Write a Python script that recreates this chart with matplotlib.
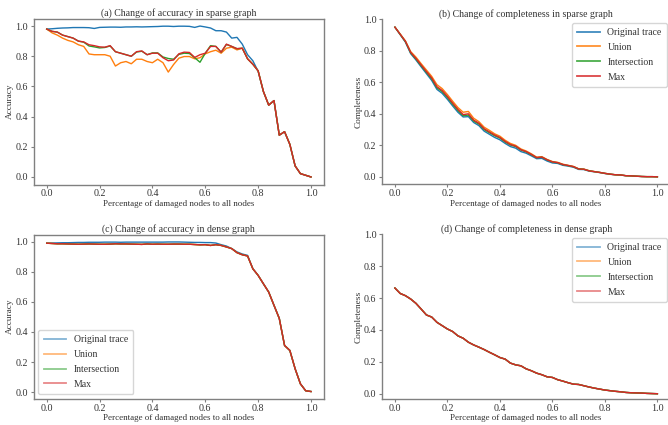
import numpy as np
import matplotlib
matplotlib.use("Agg")
import matplotlib.pyplot as plt

plt.rcParams['font.family'] = ['Liberation Serif', 'DejaVu Serif']

# Percentage of damaged nodes
damaged = np.linspace(0, 1, 51)

series_names = ["Original trace", "Union", "Intersection", "Max"]

# (a) accuracy, sparse graph
acc_sparse_orig = [0.980, 0.982, 0.985, 0.987, 0.988, 0.990, 0.990, 0.990, 0.989, 0.984,
                   0.991, 0.992, 0.993, 0.993, 0.992, 0.994, 0.994, 0.995, 0.994, 0.995,
                   0.996, 0.997, 0.999, 0.999, 0.997, 0.999, 0.999, 0.998, 0.991, 1.000,
                   0.994, 0.987, 0.969, 0.969, 0.960, 0.920, 0.925, 0.880, 0.810, 0.770,
                   0.700, 0.566, 0.476, 0.506, 0.277, 0.300, 0.216, 0.073, 0.022, 0.011, 0.000]
acc_sparse_union = [0.980, 0.955, 0.940, 0.920, 0.905, 0.895, 0.876, 0.865, 0.815, 0.810,
                    0.810, 0.810, 0.800, 0.735, 0.757, 0.765, 0.750, 0.780, 0.780, 0.765,
                    0.757, 0.780, 0.757, 0.695, 0.745, 0.787, 0.798, 0.798, 0.783, 0.790,
                    0.816, 0.830, 0.840, 0.820, 0.853, 0.860, 0.842, 0.853, 0.783, 0.747,
                    0.703, 0.566, 0.476, 0.506, 0.277, 0.300, 0.216, 0.073, 0.022, 0.011, 0.000]
acc_sparse_inter = [0.980, 0.965, 0.960, 0.940, 0.930, 0.920, 0.900, 0.893, 0.868, 0.862,
                    0.855, 0.858, 0.868, 0.830, 0.820, 0.810, 0.800, 0.828, 0.833, 0.810,
                    0.822, 0.822, 0.795, 0.785, 0.780, 0.812, 0.820, 0.818, 0.790, 0.760,
                    0.820, 0.870, 0.865, 0.827, 0.878, 0.865, 0.850, 0.853, 0.783, 0.747,
                    0.703, 0.566, 0.476, 0.506, 0.277, 0.300, 0.216, 0.073, 0.022, 0.011, 0.000]
acc_sparse_max = [0.980, 0.965, 0.960, 0.940, 0.930, 0.920, 0.900, 0.895, 0.876, 0.870,
                  0.862, 0.860, 0.870, 0.830, 0.820, 0.810, 0.800, 0.830, 0.835, 0.810,
                  0.820, 0.820, 0.790, 0.770, 0.775, 0.816, 0.827, 0.825, 0.792, 0.810,
                  0.820, 0.865, 0.865, 0.827, 0.880, 0.865, 0.850, 0.853, 0.783, 0.747,
                  0.703, 0.566, 0.476, 0.506, 0.277, 0.300, 0.216, 0.073, 0.022, 0.011, 0.000]

# (b) completeness, sparse graph
comp_sparse_orig = [0.950, 0.903, 0.855, 0.782, 0.742, 0.698, 0.655, 0.612, 0.555, 0.530,
                    0.492, 0.450, 0.410, 0.380, 0.382, 0.345, 0.325, 0.290, 0.270, 0.250,
                    0.235, 0.212, 0.192, 0.182, 0.160, 0.150, 0.133, 0.115, 0.117, 0.100,
                    0.088, 0.085, 0.073, 0.068, 0.061, 0.047, 0.046, 0.036, 0.032, 0.027,
                    0.021, 0.016, 0.013, 0.011, 0.007, 0.006, 0.004, 0.002, 0.001, 0.001, 0.000]
comp_sparse_union = [0.950, 0.907, 0.863, 0.795, 0.760, 0.718, 0.678, 0.638, 0.585, 0.560,
                     0.522, 0.480, 0.440, 0.410, 0.415, 0.372, 0.350, 0.315, 0.295, 0.273,
                     0.258, 0.232, 0.212, 0.200, 0.177, 0.164, 0.146, 0.125, 0.128, 0.110,
                     0.097, 0.092, 0.080, 0.073, 0.066, 0.051, 0.049, 0.039, 0.033, 0.028,
                     0.022, 0.017, 0.013, 0.012, 0.007, 0.006, 0.004, 0.002, 0.001, 0.001, 0.000]
comp_sparse_inter = [0.950, 0.904, 0.858, 0.787, 0.748, 0.705, 0.663, 0.622, 0.565, 0.541,
                     0.503, 0.461, 0.421, 0.388, 0.392, 0.354, 0.335, 0.300, 0.280, 0.261,
                     0.246, 0.221, 0.202, 0.192, 0.170, 0.158, 0.140, 0.121, 0.124, 0.107,
                     0.094, 0.089, 0.077, 0.071, 0.064, 0.050, 0.048, 0.038, 0.033, 0.028,
                     0.022, 0.017, 0.013, 0.012, 0.007, 0.006, 0.004, 0.002, 0.001, 0.001, 0.000]
comp_sparse_max = [0.950, 0.905, 0.860, 0.790, 0.752, 0.710, 0.668, 0.628, 0.572, 0.548,
                   0.510, 0.468, 0.428, 0.395, 0.400, 0.360, 0.340, 0.305, 0.285, 0.265,
                   0.250, 0.225, 0.205, 0.195, 0.172, 0.160, 0.142, 0.122, 0.125, 0.108,
                   0.095, 0.090, 0.078, 0.072, 0.065, 0.050, 0.048, 0.038, 0.033, 0.028,
                   0.022, 0.017, 0.013, 0.012, 0.007, 0.006, 0.004, 0.002, 0.001, 0.001, 0.000]

# (c) accuracy, dense graph
acc_dense_orig = [0.990, 0.991, 0.992, 0.993, 0.993, 0.994, 0.995, 0.995, 0.996, 0.996,
                  0.996, 0.997, 0.997, 0.997, 0.996, 0.997, 0.997, 0.997, 0.997, 0.997,
                  0.997, 0.997, 0.997, 0.998, 0.998, 0.998, 0.997, 0.996, 0.995, 0.995,
                  0.994, 0.994, 0.991, 0.980, 0.971, 0.954, 0.932, 0.918, 0.909, 0.820,
                  0.776, 0.720, 0.665, 0.577, 0.490, 0.310, 0.277, 0.155, 0.055, 0.009, 0.004]
acc_dense_union = [0.990, 0.988, 0.986, 0.986, 0.985, 0.984, 0.983, 0.984, 0.985, 0.984,
                   0.983, 0.983, 0.984, 0.986, 0.985, 0.985, 0.984, 0.983, 0.982, 0.985,
                   0.983, 0.984, 0.983, 0.983, 0.984, 0.984, 0.983, 0.983, 0.981, 0.979,
                   0.980, 0.975, 0.980, 0.975, 0.965, 0.954, 0.927, 0.913, 0.905, 0.820,
                   0.776, 0.720, 0.665, 0.577, 0.490, 0.310, 0.277, 0.155, 0.055, 0.009, 0.004]
acc_dense_inter = [0.990, 0.988, 0.986, 0.986, 0.985, 0.984, 0.983, 0.984, 0.985, 0.984,
                   0.983, 0.983, 0.984, 0.986, 0.985, 0.985, 0.984, 0.983, 0.982, 0.985,
                   0.983, 0.984, 0.983, 0.983, 0.984, 0.984, 0.983, 0.983, 0.981, 0.979,
                   0.980, 0.975, 0.980, 0.975, 0.965, 0.954, 0.927, 0.913, 0.905, 0.820,
                   0.776, 0.720, 0.665, 0.577, 0.490, 0.310, 0.277, 0.155, 0.055, 0.009, 0.004]
acc_dense_max = [0.990, 0.988, 0.986, 0.986, 0.985, 0.984, 0.983, 0.984, 0.985, 0.984,
                 0.983, 0.983, 0.984, 0.986, 0.985, 0.985, 0.984, 0.983, 0.982, 0.985,
                 0.983, 0.984, 0.983, 0.983, 0.984, 0.984, 0.983, 0.983, 0.981, 0.979,
                 0.980, 0.975, 0.980, 0.975, 0.965, 0.954, 0.927, 0.913, 0.905, 0.820,
                 0.776, 0.720, 0.665, 0.577, 0.490, 0.310, 0.277, 0.155, 0.055, 0.009, 0.004]

# (d) completeness, dense graph
comp_dense_orig = [0.663, 0.629, 0.615, 0.594, 0.567, 0.531, 0.494, 0.481, 0.448, 0.427,
                   0.406, 0.390, 0.363, 0.348, 0.323, 0.306, 0.292, 0.277, 0.260, 0.244,
                   0.227, 0.217, 0.192, 0.181, 0.175, 0.156, 0.144, 0.129, 0.119, 0.106,
                   0.102, 0.088, 0.079, 0.069, 0.060, 0.058, 0.050, 0.042, 0.035, 0.029,
                   0.023, 0.019, 0.015, 0.012, 0.008, 0.006, 0.005, 0.004, 0.002, 0.001, 0.000]
comp_dense_union = [0.663, 0.629, 0.615, 0.594, 0.567, 0.531, 0.494, 0.481, 0.448, 0.427,
                    0.406, 0.390, 0.363, 0.348, 0.323, 0.306, 0.292, 0.277, 0.260, 0.244,
                    0.227, 0.217, 0.192, 0.181, 0.175, 0.156, 0.144, 0.129, 0.119, 0.106,
                    0.102, 0.088, 0.079, 0.069, 0.060, 0.058, 0.050, 0.042, 0.035, 0.029,
                    0.023, 0.019, 0.015, 0.012, 0.008, 0.006, 0.005, 0.004, 0.002, 0.001, 0.000]
comp_dense_inter = [0.663, 0.629, 0.615, 0.594, 0.567, 0.531, 0.494, 0.481, 0.448, 0.427,
                    0.406, 0.390, 0.363, 0.348, 0.323, 0.306, 0.292, 0.277, 0.260, 0.244,
                    0.227, 0.217, 0.192, 0.181, 0.175, 0.156, 0.144, 0.129, 0.119, 0.106,
                    0.102, 0.088, 0.079, 0.069, 0.060, 0.058, 0.050, 0.042, 0.035, 0.029,
                    0.023, 0.019, 0.015, 0.012, 0.008, 0.006, 0.005, 0.004, 0.002, 0.001, 0.000]
comp_dense_max = [0.663, 0.629, 0.615, 0.594, 0.567, 0.531, 0.494, 0.481, 0.448, 0.427,
                  0.406, 0.390, 0.363, 0.348, 0.323, 0.306, 0.292, 0.277, 0.260, 0.244,
                  0.227, 0.217, 0.192, 0.181, 0.175, 0.156, 0.144, 0.129, 0.119, 0.106,
                  0.102, 0.088, 0.079, 0.069, 0.060, 0.058, 0.050, 0.042, 0.035, 0.029,
                  0.023, 0.019, 0.015, 0.012, 0.008, 0.006, 0.005, 0.004, 0.002, 0.001, 0.000]

titles = ["(a) Change of accuracy in sparse graph",
          "(b) Change of completeness in sparse graph",
          "(c) Change of accuracy in dense graph",
          "(d) Change of completeness in dense graph"]
ylabels = ["Accuracy", "Completeness", "Accuracy", "Completeness"]
xlabel = "Percentage of damaged nodes to all nodes"

panels = [
    [acc_sparse_orig, acc_sparse_union, acc_sparse_inter, acc_sparse_max],
    [comp_sparse_orig, comp_sparse_union, comp_sparse_inter, comp_sparse_max],
    [acc_dense_orig, acc_dense_union, acc_dense_inter, acc_dense_max],
    [comp_dense_orig, comp_dense_union, comp_dense_inter, comp_dense_max],
]

colors = ["#1f77b4", "#ff7f0e", "#2ca02c", "#d62728"]
W, H = 668, 425
fig = plt.figure(figsize=(W / 100, H / 100), dpi=100)

def px_axes(l, t, r, b):
    return fig.add_axes([l / W, 1 - b / H, (r - l) / W, (b - t) / H])

boxes = [(33.5, 18.5, 324.2, 184.5), (381.8, 19.3, 670.5, 184.3),
         (33.5, 234.5, 324.2, 399.0), (381.8, 234.3, 670.5, 399.0)]

text_c = "#333333"
spine_c = "#808080"

for k, (box, data) in enumerate(zip(boxes, panels)):
    ax = px_axes(*box)
    for name, vals, c in zip(series_names, data, colors):
        ax.plot(damaged, vals, color=c, lw=1.0, label=name)
    ax.set_title(titles[k], fontsize=7.1, color=text_c, pad=2)
    ax.set_xlabel(xlabel, fontsize=6.5, color=text_c, labelpad=1.0)
    ax.set_ylabel(ylabels[k], fontsize=6.7, color=text_c)
    ax.yaxis.set_label_coords(-0.066, 0.5)
    ax.set_xticks([0, 0.2, 0.4, 0.6, 0.8, 1.0])
    ax.set_yticks([0, 0.2, 0.4, 0.6, 0.8, 1.0])
    ax.tick_params(labelsize=7.2, colors=spine_c, labelcolor=text_c,
                   length=2.5, width=0.8, pad=1.5)
    ax.tick_params(axis='x', pad=1.0)
    for s in ax.spines.values():
        s.set_color(spine_c)
        s.set_linewidth(1.0)
    if k in (1, 3):
        ax.set_ylim(top=1.0)
        ax.spines['top'].set_visible(False)
        ax.spines['right'].set_visible(False)
    leg = None
    if k in (1, 3):
        leg = ax.legend(loc="upper right", fontsize=7, handlelength=2.3,
                        borderaxespad=0.35, labelspacing=0.6, borderpad=0.55,
                        labelcolor=text_c)
    elif k == 2:
        leg = ax.legend(loc="lower left", fontsize=7, handlelength=2.3,
                        borderaxespad=0.5, labelspacing=0.6, borderpad=0.55,
                        labelcolor=text_c)
    if leg is not None:
        for lh in leg.get_lines():
            lh.set_alpha(0.85 if k == 1 else 0.55)
            lh.set_linewidth(1.3)

fig.savefig("out.png", dpi=100)
